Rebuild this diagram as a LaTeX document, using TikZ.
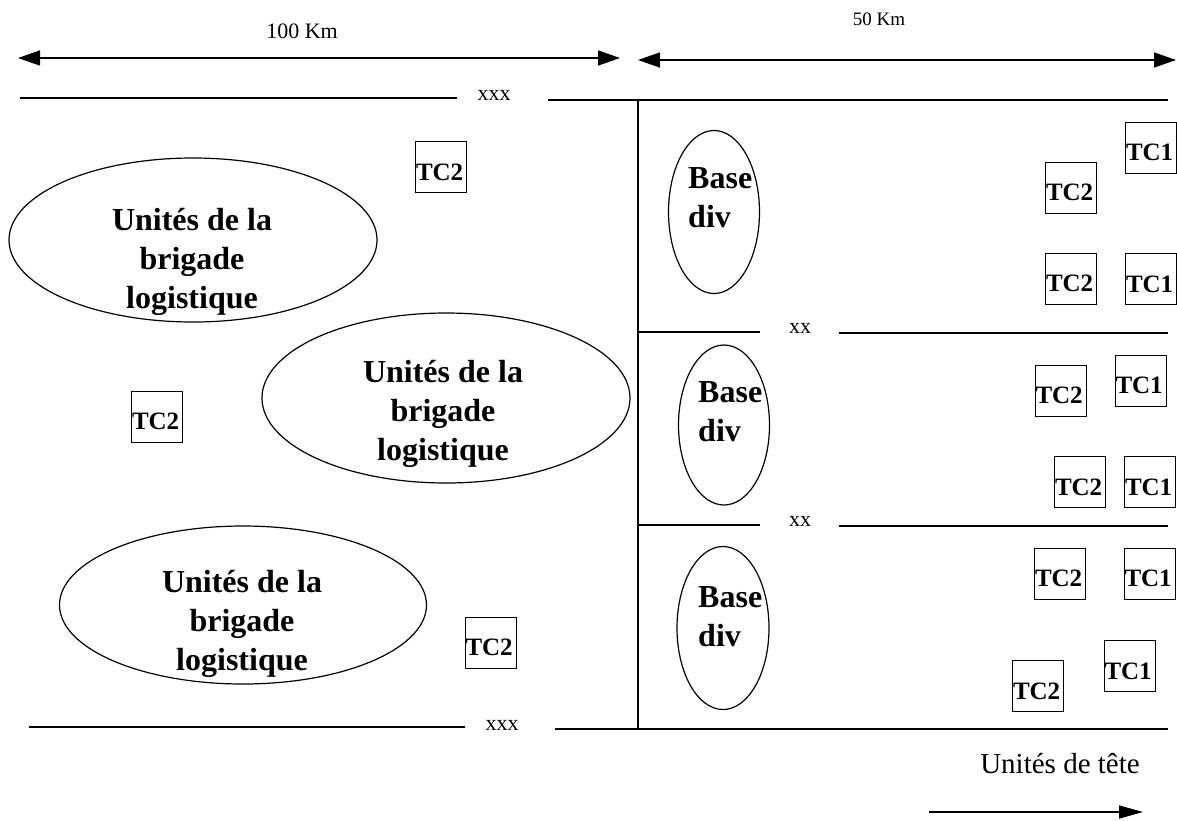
\documentclass[tikz,border=0pt]{standalone}
\usepackage{fontspec}
\setmainfont{Liberation Serif}
\usetikzlibrary{arrows.meta,shapes.geometric}
\begin{document}
\begin{tikzpicture}[x=1pt,y=-1pt,
  divline/.style={line width=1.5pt},
  dimarrow/.style={line width=1.5pt,{Triangle[length=22pt,width=15pt]}-{Triangle[length=22pt,width=15pt]}},
  headarrow/.style={line width=1.5pt,-{Triangle[length=24pt,width=13pt]}},
  ovalshape/.style={draw,ellipse,line width=1.2pt,inner sep=0pt},
  bigtext/.style={align=center,inner sep=0pt,font=\bfseries\fontsize{32}{39}\selectfont},
  basetext/.style={align=left,inner sep=0pt,font=\bfseries\fontsize{32}{39}\selectfont},
  tcbox/.style={draw,line width=1pt,inner xsep=0.5pt,inner ysep=0pt,text width=50pt,align=left,minimum height=51pt,text height=26pt,text depth=0pt,font=\bfseries\fontsize{25}{25}\selectfont},
  xlabel/.style={anchor=base,inner sep=0pt,font=\fontsize{22}{22}\selectfont}
]
\useasboundingbox (0,0) rectangle (1177,820);

% distance arrows
\coordinate (a1l) at (18,58); \coordinate (a1r) at (620,58);
\draw[dimarrow] (a1l) -- (a1r);
\node[anchor=base,inner sep=0pt,font=\fontsize{22}{22}\selectfont] (km100) at (302,38) {100 Km};
\coordinate (a2l) at (638,60); \coordinate (a2r) at (1176,60);
\draw[dimarrow] (a2l) -- (a2r);
\node[anchor=base,inner sep=0pt,font=\fontsize{19}{19}\selectfont] (km50) at (879,25) {50 Km};

% top boundary
\node[xlabel] (xxxtop) at (494,100) {xxx};
\coordinate (tl1) at (20,98); \coordinate (tl2) at (457,98);
\coordinate (tr1) at (548,100); \coordinate (tr2) at (1168,100);
\draw[divline] (tl1) -- (tl2);
\draw[divline] (tr1) -- (tr2);

% bottom boundary
\node[xlabel] (xxxbot) at (502,730) {xxx};
\coordinate (bl1) at (29,727); \coordinate (bl2) at (465,727);
\coordinate (br1) at (555,729); \coordinate (br2) at (1168,729);
\draw[divline] (bl1) -- (bl2);
\draw[divline] (br1) -- (br2);

% vertical separator
\coordinate (vt) at (638,100); \coordinate (vb) at (638,729);
\draw[divline] (vt) -- (vb);

% division boundaries
\node[xlabel] (xxa) at (800,333) {xx};
\coordinate (xal1) at (638,332); \coordinate (xal2) at (760,332);
\coordinate (xar1) at (839,333); \coordinate (xar2) at (1168,333);
\draw[divline] (xal1) -- (xal2);
\draw[divline] (xar1) -- (xar2);
\node[xlabel] (xxb) at (800,526) {xx};
\coordinate (xbl1) at (638,525); \coordinate (xbl2) at (760,525);
\coordinate (xbr1) at (839,526); \coordinate (xbr2) at (1168,526);
\draw[divline] (xbl1) -- (xbl2);
\draw[divline] (xbr1) -- (xbr2);

% brigade ellipses
\node[ovalshape,minimum width=368pt,minimum height=164pt] (u1) at (193,240) {};
\node[bigtext,anchor=north] (u1t) at (192,208) {Unités de la\\brigade\\logistique};
\node[ovalshape,minimum width=368pt,minimum height=170pt] (u2) at (446,398) {};
\node[bigtext,anchor=north] (u2t) at (443,360) {Unités de la\\brigade\\logistique};
\node[ovalshape,minimum width=367pt,minimum height=158pt] (u3) at (243,605) {};
\node[bigtext,anchor=north] (u3t) at (242,570) {Unités de la\\brigade\\logistique};

% base div ellipses
\node[ovalshape,minimum width=91pt,minimum height=163pt] (b1) at (714,212) {};
\node[basetext,anchor=south west] (b1t) at (688,228) {Base\\div};
\node[ovalshape,minimum width=91pt,minimum height=160pt] (b2) at (724,425) {};
\node[basetext,anchor=south west] (b2t) at (698,442) {Base\\div};
\node[ovalshape,minimum width=92pt,minimum height=163pt] (b3) at (723,628) {};
\node[basetext,anchor=south west] (b3t) at (698,647) {Base\\div};

% TC boxes, left
\node[tcbox] (l1) at (441,167) {TC2};
\node[tcbox] (l2) at (157,416.5) {TC2};
\node[tcbox] (l3) at (490.5,642.5) {TC2};

% TC boxes, right
\node[tcbox] (r1a) at (1151,147.5) {TC1};
\node[tcbox] (r1b) at (1071,187.5) {TC2};
\node[tcbox] (r1c) at (1071,278.5) {TC2};
\node[tcbox] (r1d) at (1151,279) {TC1};
\node[tcbox] (r2a) at (1060.5,390.5) {TC2};
\node[tcbox] (r2b) at (1140.5,380.5) {TC1};
\node[tcbox] (r2c) at (1080,482) {TC2};
\node[tcbox] (r2d) at (1150,482) {TC1};
\node[tcbox] (r3a) at (1060,573.5) {TC2};
\node[tcbox] (r3b) at (1149.5,573.5) {TC1};
\node[tcbox] (r3c) at (1038,686) {TC2};
\node[tcbox] (r3d) at (1129.5,666) {TC1};

% head units
\node[anchor=base,inner sep=0pt,font=\fontsize{29}{29}\selectfont] (tete) at (1060,773) {Unités de tête};
\coordinate (hl) at (929,812); \coordinate (hr) at (1143,812);
\draw[headarrow] (hl) -- (hr);
\end{tikzpicture}
\end{document}
